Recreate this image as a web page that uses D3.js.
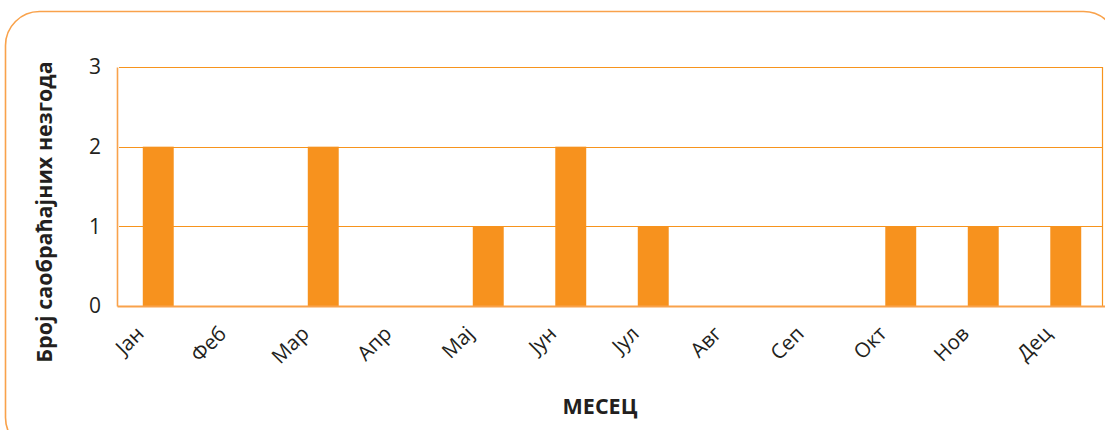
<!DOCTYPE html>
<html>
<head>
<meta charset="utf-8">
<script src="https://cdn.jsdelivr.net/npm/d3@7"></script>
<style>
  html, body { margin: 0; padding: 0; background: #ffffff; }
  svg { display: block; font-family: "Open Sans", "Noto Sans", sans-serif; }
</style>
</head>
<body>
<svg id="chart" width="1105" height="430"></svg>
<script>
// Monthly counts of traffic accidents
const months = ["Јан", "Феб", "Мар", "Апр", "Мај", "Јун", "Јул", "Авг", "Сеп", "Окт", "Нов", "Дец"];
const accidents = [2, 0, 2, 0, 1, 2, 1, 0, 0, 1, 1, 1];
const yTicks = [0, 1, 2, 3];
const yTitle = "Број саобраћајних незгода";
const xTitle = "МЕСЕЦ";

const orange = "#F7921E";
const lineOrange = "#F7941D";
const frameOrange = "#F9A24B";
const ink = "#231f20";

const svg = d3.select("#chart");

// Rounded outer panel, partly running past the canvas edges
svg.append("rect")
  .attr("x", 5.5).attr("y", 11.5)
  .attr("width", 1112).attr("height", 440)
  .attr("rx", 34).attr("ry", 34)
  .attr("fill", "none")
  .attr("stroke", frameOrange)
  .attr("stroke-width", 1.6);

const plot = { left: 117, right: 1107, top: 67, bottom: 306 };

const x = d3.scaleBand()
  .domain(months)
  .range([plot.left, plot.right])
  .paddingInner(0.625)
  .paddingOuter(0.3125);

const y = d3.scaleLinear()
  .domain([0, 3])
  .range([plot.bottom, plot.top]);

// Horizontal gridlines
svg.append("g")
  .selectAll("line")
  .data(yTicks.filter(d => d > 0))
  .join("line")
  .attr("x1", plot.left + 2).attr("x2", 1103)
  .attr("y1", d => Math.round(y(d)) + 0.5)
  .attr("y2", d => Math.round(y(d)) + 0.5)
  .attr("stroke", lineOrange)
  .attr("stroke-width", 1);

// Right edge of plot area
svg.append("line")
  .attr("x1", 1102.5).attr("x2", 1102.5)
  .attr("y1", y(3)).attr("y2", plot.bottom)
  .attr("stroke", lineOrange)
  .attr("stroke-width", 1.2);

// Bars
svg.append("g")
  .selectAll("rect")
  .data(months.map((m, i) => ({ month: m, value: accidents[i] })))
  .join("rect")
  .attr("x", d => x(d.month))
  .attr("width", x.bandwidth())
  .attr("y", d => y(d.value))
  .attr("height", d => y(0) - y(d.value))
  .attr("fill", orange);

// Y axis
const yAxis = svg.append("g")
  .attr("transform", `translate(${plot.left},0)`)
  .call(d3.axisLeft(y).tickValues(yTicks).tickFormat(d3.format("d")).tickSize(0).tickPadding(16));
yAxis.select(".domain")
  .attr("stroke", frameOrange)
  .attr("stroke-width", 1.6);
yAxis.selectAll("text")
  .attr("font-size", 21)
  .attr("fill", ink)
  .attr("font-family", "\"Open Sans\", sans-serif");

// X axis
const xAxis = svg.append("g")
  .attr("transform", `translate(0,${plot.bottom})`)
  .call(d3.axisBottom(x).tickSize(0).tickSizeOuter(0));
xAxis.select(".domain")
  .attr("stroke", frameOrange)
  .attr("stroke-width", 2);
xAxis.selectAll(".tick text")
  .attr("font-size", 20.5)
  .attr("fill", ink)
  .attr("font-family", "\"Open Sans\", sans-serif")
  .attr("text-anchor", "end")
  .attr("dy", null)
  .attr("y", 0)
  .attr("transform", "translate(-13,29) rotate(-45)");

// Axis titles
svg.append("text")
  .attr("transform", `translate(52,${212}) rotate(-90)`)
  .attr("text-anchor", "middle")
  .attr("font-size", 21.5)
  .attr("font-weight", "bold")
  .attr("fill", ink)
  .text(yTitle);

svg.append("text")
  .attr("x", 600).attr("y", 414)
  .attr("text-anchor", "middle")
  .attr("font-size", 21.5)
  .attr("font-weight", "bold")
  .attr("fill", ink)
  .text(xTitle);
</script>
</body>
</html>
